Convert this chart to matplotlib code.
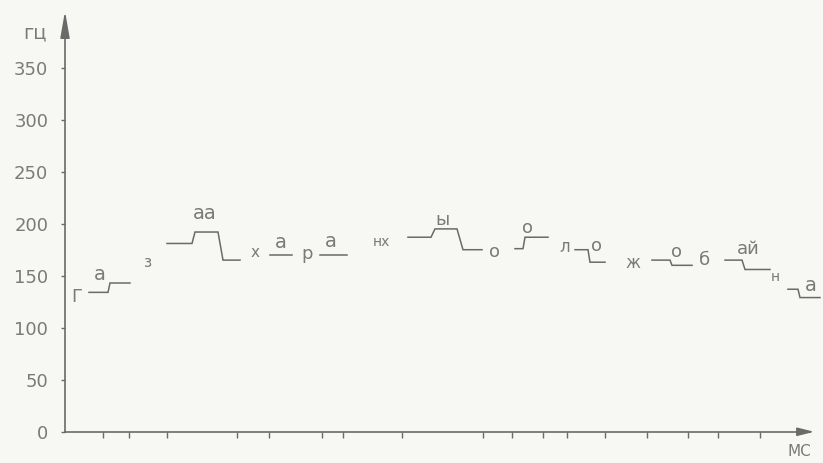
import matplotlib
matplotlib.use("Agg")  # без GUI
import matplotlib.pyplot as plt

# контуры ЧОТ по слогам: время (мс, условно) и частота (Гц)
contour_ms = [
    [24, 43, 45, 65],
    [102, 127, 130, 153, 158, 175],
    [205, 227],
    [255, 282],
    [343, 366, 370, 392, 398, 417],
    [450, 458, 460, 483],
    [510, 523, 525, 540],
    [587, 605, 607, 627],
    [660, 677, 680, 705],
    [723, 733, 735, 755],
]
contour_hz = [
    [134, 134, 143, 143],
    [181, 181, 192, 192, 165, 165],
    [170, 170],
    [170, 170],
    [187, 187, 195, 195, 175, 175],
    [176, 176, 187, 187],
    [175, 175, 163, 163],
    [165, 165, 160, 160],
    [165, 165, 156, 156],
    [137, 137, 129, 129],
]

# буквы (звуки) над контурами и между ними
letters = ["Г", "а", "з", "аа", "х", "а", "р", "а", "нх", "ы",
           "о", "о", "л", "о", "ж", "о", "б", "ай", "н", "а"]
letter_ms = [12, 35, 83, 140, 190, 216, 242, 266, 316, 378,
             430, 463, 500, 532, 568, 612, 640, 683, 710, 746]
letter_hz = [130, 151, 163, 210, 172, 182, 171, 183, 182, 204,
             173, 196, 178, 179, 162, 173, 165, 176, 149, 141]
letter_size = [13, 14, 11, 14, 11, 14, 13, 14, 10, 13,
               13, 13, 12, 13, 12, 13, 13, 13, 10, 14]

y_ticks = [0, 50, 100, 150, 200, 250, 300, 350]
x_ticks = [38, 64, 102, 172, 204, 257, 278, 337, 418, 447,
           478, 502, 540, 582, 623, 653, 695]

ink = "#6a6a6a"
text_ink = "#7a7a7a"
paper = "#f7f7f4"

fig = plt.figure(figsize=(8.23, 4.63), dpi=100, facecolor=paper)
ax = fig.add_axes([0, 0, 1, 1], facecolor=paper)
ax.set_xlim(-65, 758)
ax.set_ylim(-30, 415)

for xs, hs in zip(contour_ms, contour_hz):
    ax.plot(xs, hs, color=ink, linewidth=1.1, solid_joinstyle="miter")

for t, x, h, s in zip(letters, letter_ms, letter_hz, letter_size):
    ax.text(x, h, t, ha="center", va="center", fontsize=s, color=text_ink)

# оси
for side in ("top", "right"):
    ax.spines[side].set_visible(False)
ax.spines["left"].set_position(("data", 0))
ax.spines["bottom"].set_position(("data", 0))
ax.spines["left"].set_bounds(0, 390)
ax.spines["bottom"].set_bounds(0, 745)
for side in ("left", "bottom"):
    ax.spines[side].set_color(ink)
    ax.spines[side].set_linewidth(1.2)

ax.annotate("", xy=(0, 407), xytext=(0, 380),
            arrowprops=dict(arrowstyle="-|>,head_length=1.6,head_width=0.28",
                            color=ink, lw=1.2))
ax.annotate("", xy=(752, 0), xytext=(735, 0),
            arrowprops=dict(arrowstyle="-|>,head_length=1.0,head_width=0.25",
                            color=ink, lw=1.2))

ax.set_yticks(y_ticks)
ax.set_yticklabels([str(v) for v in y_ticks])
ax.set_xticks(x_ticks)
ax.set_xticklabels([])
ax.tick_params(axis="y", direction="out", length=3, width=1, pad=9,
               colors=ink, labelcolor=text_ink, labelsize=13)
ax.tick_params(axis="x", direction="out", length=4, width=1, colors=ink)

ax.text(-30, 383, "гц", ha="center", va="center", fontsize=14, color=text_ink)
ax.text(734, -19, "МС", ha="center", va="center", fontsize=11, color=text_ink)

fig.savefig("out.png", dpi=100, facecolor=paper)
plt.close(fig)
